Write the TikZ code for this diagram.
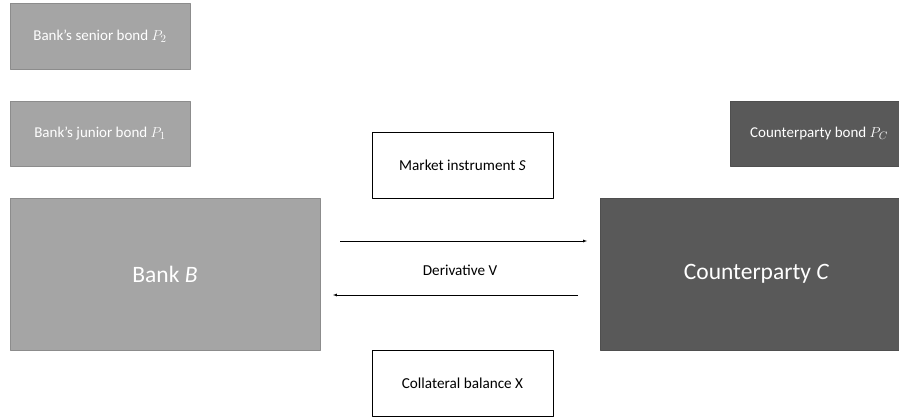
\documentclass[tikz,border=0pt]{standalone}
\usepackage{fontspec}
\setmainfont{Carlito}
\definecolor{lightbox}{HTML}{A5A5A5}
\definecolor{lightedge}{HTML}{8C8C8C}
\definecolor{darkbox}{HTML}{595959}
\definecolor{darkedge}{HTML}{4F4F4F}
\begin{document}
\begin{tikzpicture}[>=latex,line join=bevel,
  bondbox/.style={draw=lightedge,fill=lightbox,text=white,rectangle,inner sep=0pt,font=\fontsize{15bp}{18bp}\selectfont},
  partybox/.style={draw=lightedge,fill=lightbox,text=white,rectangle,inner sep=0pt,font=\fontsize{23.5bp}{28bp}\selectfont},
  plainbox/.style={draw=black,fill=white,rectangle,inner sep=0pt,font=\fontsize{15.2bp}{18bp}\selectfont},
]
\useasboundingbox (0bp,0bp) rectangle (899bp,420bp);
%%
\node (senior) at (100bp,384bp) [bondbox,minimum width=180bp,minimum height=66bp] {Bank’s senior bond $P_2$};
  \node (junior) at (100bp,286.5bp) [bondbox,minimum width=180bp,minimum height=65bp] {Bank’s junior bond $P_1$};
  \node (cpty_bond) at (819bp,286.5bp) [bondbox,draw=darkedge,fill=darkbox,minimum width=178bp,minimum height=65bp] {Counterparty bond $P_C$};
  \node (market) at (462.5bp,255bp) [plainbox,minimum width=181bp,minimum height=66bp] {Market instrument \textit{S}};
  \node (bank) at (165bp,146bp) [partybox,minimum width=310bp,minimum height=152bp] {Bank \textit{B}};
  \node (cpty) at (756.5bp,146bp) [partybox,draw=darkedge,fill=darkbox,minimum width=313bp,minimum height=152bp] {Counterparty \textit{C}};
  \node (collateral) at (462.5bp,37bp) [plainbox,minimum width=181bp,minimum height=66bp] {Collateral balance X};
  \node (derivative) at (460bp,150bp) [font=\fontsize{15.2bp}{18bp}\selectfont] {Derivative V};
  \coordinate (pay_start) at (340bp,179bp);
  \coordinate (pay_end) at (587bp,179bp);
  \coordinate (rcv_start) at (578bp,125bp);
  \coordinate (rcv_end) at (333bp,125bp);
  \draw [->,solid,thin] (pay_start) -- (pay_end);
  \draw [->,solid,thin] (rcv_start) -- (rcv_end);
%
\end{tikzpicture}
\end{document}
